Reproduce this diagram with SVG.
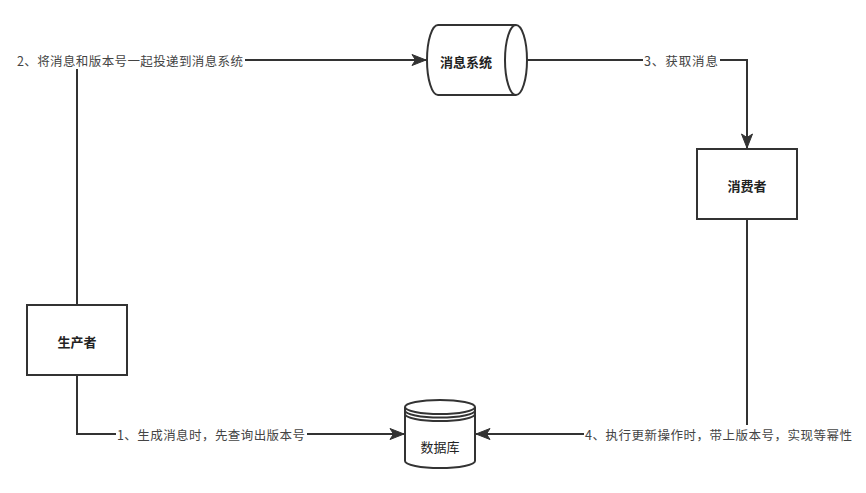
<svg xmlns="http://www.w3.org/2000/svg" width="866" height="493" viewBox="0 0 866 493">
<style>
.shape{fill:#fff;stroke:#333;stroke-width:2}
.line{fill:none;stroke:#333;stroke-width:2}
.nl{font-family:"Noto Sans CJK SC","Liberation Sans",sans-serif;font-size:13px;fill:#222;text-anchor:middle;dominant-baseline:central}
.b{font-weight:bold}
.el{font-family:"Noto Sans CJK SC","Liberation Sans",sans-serif;font-size:12.5px;fill:#444;dominant-baseline:central}
.bg{fill:#fff}
</style>
<defs>
<marker id="arr" markerUnits="userSpaceOnUse" markerWidth="16" markerHeight="12" viewBox="-15 -6 16 12" refX="0" refY="0" orient="auto">
<path d="M0,0 L-14,-5.5 L-10.5,0 L-14,5.5 Z" fill="#333" stroke="#333" stroke-width="1"/>
</marker>
</defs>
<g id="connectors">
<path class="line" d="M77,305 L77,60 L426,60" marker-end="url(#arr)"/>
<path class="line" d="M527,60 L747,60 L747,148" marker-end="url(#arr)"/>
<path class="line" d="M77,375 L77,434 L404,434" marker-end="url(#arr)"/>
<path class="line" d="M747,220 L747,434 L476,434" marker-end="url(#arr)"/>
<rect class="bg" x="16" y="51" width="229" height="18"/>
<text class="el" x="17" y="60" textLength="226" lengthAdjust="spacing">2、将消息和版本号一起投递到消息系统</text>
<rect class="bg" x="643" y="51" width="77" height="18"/>
<text class="el" x="644" y="60" textLength="74" lengthAdjust="spacing">3、获取消息</text>
<rect class="bg" x="116" y="425" width="191" height="18"/>
<text class="el" x="117" y="434" textLength="188" lengthAdjust="spacing">1、生成消息时，先查询出版本号</text>
<rect class="bg" x="584" y="425" width="270" height="18"/>
<text class="el" x="585" y="434" textLength="267" lengthAdjust="spacing">4、执行更新操作时，带上版本号，实现等幂性</text>
</g>
<g id="mq">
<path class="shape" d="M438,25 L516,25 A11,35 0 0 1 516,95 L438,95 A11,35 0 0 1 438,25 Z"/>
<path class="line" d="M516,25 A11,35 0 0 0 516,95"/>
<text class="nl b" x="466" y="61">消息系统</text>
</g>
<g id="consumer">
<rect class="shape" x="697" y="149" width="100" height="70"/>
<text class="nl b" x="747" y="185">消费者</text>
</g>
<g id="producer">
<rect class="shape" x="27" y="305" width="100" height="70"/>
<text class="nl b" x="77" y="341">生产者</text>
</g>
<g id="db">
<path class="shape" d="M405,407 A35,7 0 0 1 475,407 L475,461 A35,7 0 0 1 405,461 Z"/>
<path class="line" d="M405,407 A35,7 0 0 0 475,407 M405,410.5 A35,7 0 0 0 475,410.5 M405,414 A35,7 0 0 0 475,414"/>
<text class="nl" x="440" y="446">数据库</text>
</g>
</svg>
